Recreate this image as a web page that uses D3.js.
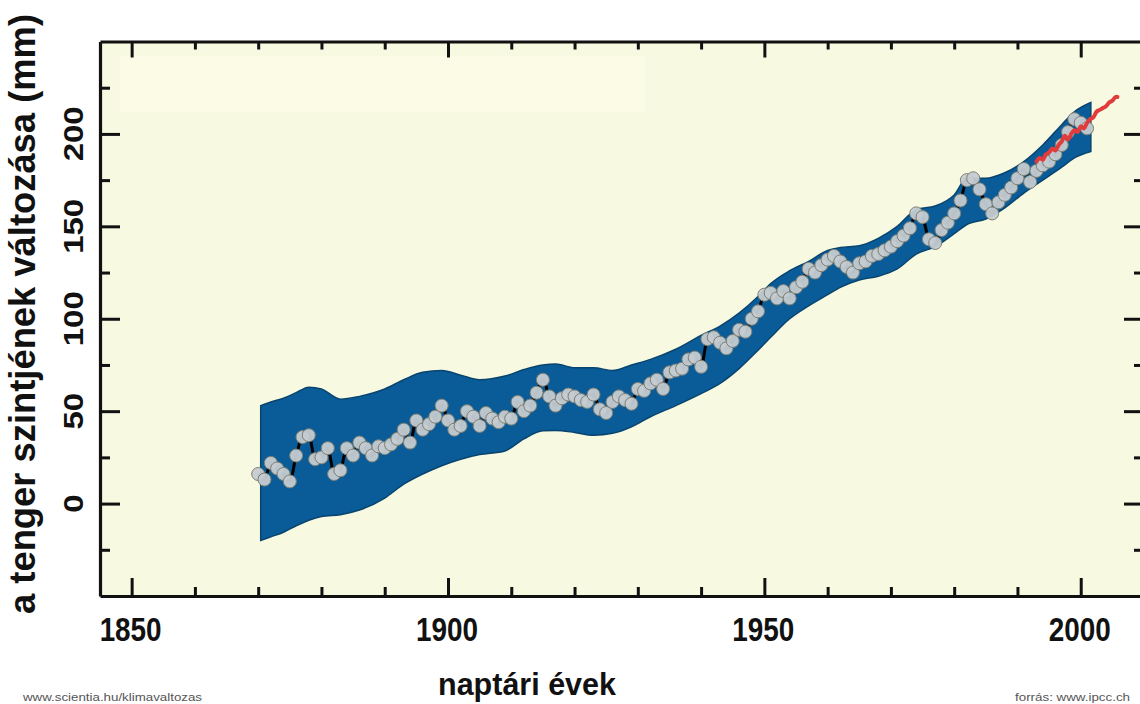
<!DOCTYPE html>
<html><head><meta charset="utf-8">
<script src="https://cdn.jsdelivr.net/npm/d3@7"></script>
<style>
body{margin:0;background:#fff}
svg{display:block}
text{font-family:"Liberation Sans",Arial,sans-serif}
</style>
</head><body>
<svg id="c" width="1140" height="704"></svg>
<script>
// ---- data ----
const years = [
  1870,1871,1872,1873,1874,1875,1876,1877,1878,1879,
  1880,1881,1882,1883,1884,1885,1886,1887,1888,1889,
  1890,1891,1892,1893,1894,1895,1896,1897,1898,1899,
  1900,1901,1902,1903,1904,1905,1906,1907,1908,1909,
  1910,1911,1912,1913,1914,1915,1916,1917,1918,1919,
  1920,1921,1922,1923,1924,1925,1926,1927,1928,1929,
  1930,1931,1932,1933,1934,1935,1936,1937,1938,1939,
  1940,1941,1942,1943,1944,1945,1946,1947,1948,1949,
  1950,1951,1952,1953,1954,1955,1956,1957,1958,1959,
  1960,1961,1962,1963,1964,1965,1966,1967,1968,1969,
  1970,1971,1972,1973,1974,1975,1976,1977,1978,1979,
  1980,1981,1982,1983,1984,1985,1986,1987,1988,1989,
  1990,1991,1992,1993,1994,1995,1996,1997,1998,1999,
  2000,2001];
const seaLevel = [
  16,13,22,19,16,12,26,36,37,24,
  25,30,16,18,30,26,33,30,26,31,
  30,32,35,40,33,45,40,43,47,53,
  45,40,42,50,47,42,49,46,44,47,
  46,55,50,53,60,67,58,53,57,59,
  58,56,55,59,51,49,55,58,56,54,
  62,61,65,67,62,71,72,73,78,79,
  74,89,90,87,84,88,94,93,100,104,
  113,114,111,115,111,117,120,127,125,129,
  132,134,131,128,125,130,131,134,135,137,
  139,142,145,149,157,155,143,141,148,152,
  157,164,175,176,170,162,157,163,167,171,
  176,181,174,180,183,185,189,194,201,208,
  206,203];

const bandYears = [1870.4,1872,1874,1876,1878,1880,1883,1886,1890,1893,1896,1899,1902,1905,1909,
  1912,1915,1917,1920,1923,1926,1929,1932,1936,1940,1943,1946,1949,1951,1954,1957,1960,1962,
  1965,1968,1971,1974,1977,1980,1982,1985,1988,1991,1994,1997,1999,2001.6];
const bandUpper = [53,55,57,60,63,62,56.5,58,62,67,71,72,69.5,67,69,
  72.5,75,75.5,73.5,73.5,72,75,78,83.5,91,96,103,112,119,126,131,137,138.5,
  139.5,143.5,150,159,161,167,176,176,179,185,194,205,212,217];
const bandLower = [-20,-18,-15.5,-12,-9,-7,-6,-3.5,3,10.5,16,20.5,24,26.5,28.5,
  35,39.4,39.5,38.5,37,38,41.5,47,53,59.5,65,73,83,90,100,107,113,117,
  121,123,127,135,139,146,151,154,160,168,175,182,187,190.5];

const satYears = [1993,1993.5,1994,1994.5,1995,1995.5,1996,1996.5,1997,1997.5,1998,1998.5,
  1999,1999.5,2000,2000.5,2001,2001.5,2002,2002.5,2003,2003.5,2004,2004.5,2005,2005.5,2005.8];
const satLevel = [185,187,186,189,190,192,191,194,196,199,197,200,
  202,201,204,203,206,208,209,212,213,214,215,217,218,220,220];

const xMajorTicks = [1850,1900,1950,2000];
const xMinorTicks = [1860,1870,1880,1890,1910,1920,1930,1940,1960,1970,1980,1990];
const yMajorTicks = [0,50,100,150,200];
const yMinorTicks = [-25,25,75,125,175,225];

const yTitle = "a tenger szintjének változása (mm)";
const xTitle = "naptári évek";
const creditLeft = "www.scientia.hu/klimavaltozas";
const creditRight = "forrás: www.ipcc.ch";

// ---- chart ----
const svg = d3.select("#c");
const x = d3.scaleLinear().domain([1845, 2010]).range([100, 1144]);
const y = d3.scaleLinear().domain([-50, 250]).range([596, 41.5]);

// plot background
svg.append("rect").attr("x", x(1845)).attr("y", y(250))
  .attr("width", x(2010) - x(1845)).attr("height", y(-50) - y(250))
  .attr("fill", "#f7f9e1");
// faint lighter panel (erased legend area)
svg.append("rect").attr("x", 120).attr("y", 56).attr("width", 525).attr("height", 56)
  .attr("fill", "#fcfce6");

// uncertainty band
const band = bandYears.map((d, i) => ({yr: d, hi: bandUpper[i], lo: bandLower[i]}));
svg.append("path").datum(band)
  .attr("d", d3.area().x(d => x(d.yr)).y0(d => y(d.lo)).y1(d => y(d.hi)).curve(d3.curveMonotoneX))
  .attr("fill", "#0a5c98").attr("stroke", "#08446f").attr("stroke-width", 1.5);

// data line
const pts = years.map((d, i) => ({yr: d, v: seaLevel[i]}));
svg.append("path").datum(pts)
  .attr("d", d3.line().x(d => x(d.yr)).y(d => y(d.v)).curve(d3.curveMonotoneX))
  .attr("fill", "none").attr("stroke", "#000").attr("stroke-width", 3);

// circles
svg.append("g").selectAll("circle").data(pts).join("circle")
  .attr("cx", d => x(d.yr)).attr("cy", d => y(d.v)).attr("r", 6.5)
  .attr("fill", "#c4ccd2").attr("fill-opacity", 0.95)
  .attr("stroke", "#7e7e72").attr("stroke-width", 1);

// satellite line
const sat = satYears.map((d, i) => ({yr: d, v: satLevel[i]}));
svg.append("path").datum(sat)
  .attr("d", d3.line().x(d => x(d.yr)).y(d => y(d.v)).curve(d3.curveCatmullRom))
  .attr("fill", "none").attr("stroke", "#e23b3b").attr("stroke-width", 4)
  .attr("stroke-linecap", "round");

// axes (frame)
function drawAxis(gen, tr, values, size, showDomain) {
  const g = svg.append("g").attr("transform", tr)
    .call(gen.tickValues(values).tickSize(size).tickSizeOuter(0).tickFormat(""));
  g.selectAll(".tick line").attr("stroke", "#111").attr("stroke-width", 3);
  g.select(".domain").attr("stroke", showDomain ? "#111" : "none").attr("stroke-width", 3.2);
  return g;
}
drawAxis(d3.axisLeft(y), "translate(100,0)", yMajorTicks, -20, true);
drawAxis(d3.axisLeft(y), "translate(100,0)", yMinorTicks, -10, false);
drawAxis(d3.axisRight(y), "translate(1144,0)", yMajorTicks, -20, true);
drawAxis(d3.axisRight(y), "translate(1144,0)", yMinorTicks, -10, false);
drawAxis(d3.axisTop(x), "translate(0,41.5)", xMajorTicks, -16, true);
drawAxis(d3.axisTop(x), "translate(0,41.5)", xMinorTicks, -8, false);
drawAxis(d3.axisBottom(x), "translate(0,596)", xMajorTicks, -18, true);
drawAxis(d3.axisBottom(x), "translate(0,596)", xMinorTicks, -9, false);

// x tick labels
svg.append("g").selectAll("text").data(xMajorTicks).join("text")
  .attr("x", d => x(d) - 1).attr("y", 641)
  .attr("text-anchor", "middle").attr("font-size", 33).attr("font-weight", "bold")
  .attr("textLength", 62).attr("lengthAdjust", "spacingAndGlyphs")
  .attr("fill", "#111").text(d => d);

// y tick labels (rotated)
svg.append("g").selectAll("text").data(yMajorTicks).join("text")
  .attr("transform", d => `translate(83,${y(d)}) rotate(-90)`)
  .attr("text-anchor", "middle").attr("font-size", 28).attr("font-weight", "bold")
  .attr("textLength", d => String(d).length * 18.3).attr("lengthAdjust", "spacingAndGlyphs")
  .attr("fill", "#111").text(d => d);

// titles
svg.append("text").attr("transform", "translate(35,314) rotate(-90)")
  .attr("text-anchor", "middle").attr("font-size", 36).attr("font-weight", "bold")
  .attr("textLength", 600).attr("lengthAdjust", "spacingAndGlyphs")
  .attr("fill", "#111").text(yTitle);
svg.append("text").attr("x", 527).attr("y", 695)
  .attr("text-anchor", "middle").attr("font-size", 32).attr("font-weight", "bold")
  .attr("textLength", 178).attr("lengthAdjust", "spacingAndGlyphs")
  .attr("fill", "#111").text(xTitle);

// credits
svg.append("text").attr("x", 23).attr("y", 701).attr("font-size", 11)
  .attr("textLength", 179).attr("lengthAdjust", "spacingAndGlyphs")
  .attr("fill", "#555").text(creditLeft);
svg.append("text").attr("x", 1015).attr("y", 701).attr("font-size", 11)
  .attr("textLength", 115).attr("lengthAdjust", "spacingAndGlyphs")
  .attr("fill", "#555").text(creditRight);
</script>
</body></html>
